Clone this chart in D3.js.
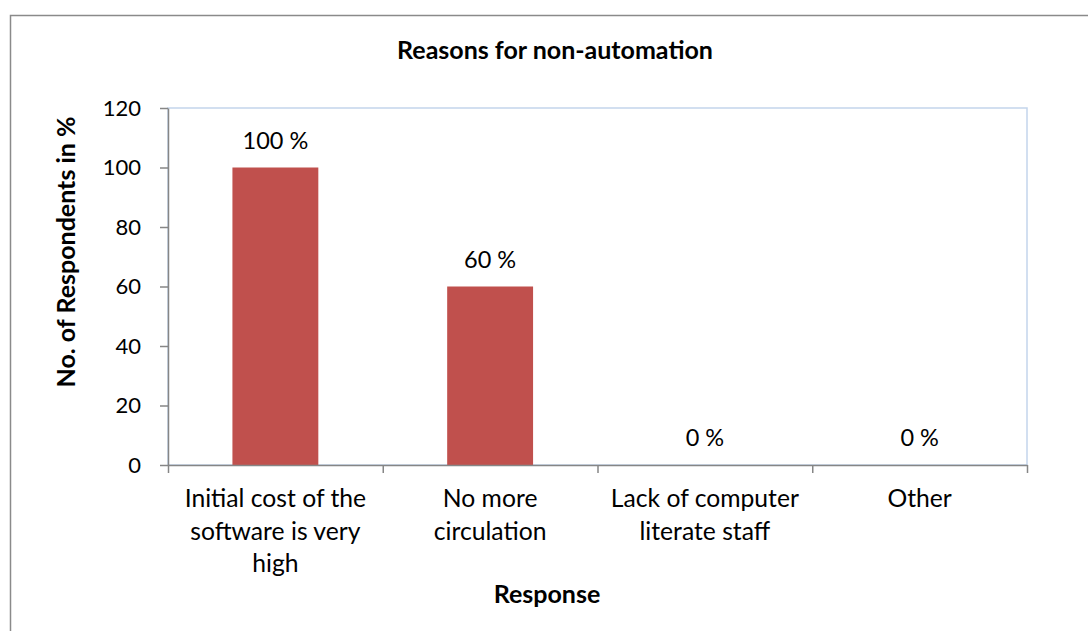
<!DOCTYPE html>
<html>
<head>
<meta charset="utf-8">
<script src="https://cdn.jsdelivr.net/npm/d3@7"></script>
<style>
  body { margin: 0; background: #fff; }
  svg { display: block; font-family: Lato, "Open Sans", sans-serif; }
</style>
</head>
<body>
<svg id="chart" width="1088" height="631"></svg>
<script>
// data
var categories = ["Initial cost of the software is very high", "No more circulation",
	"Lack of computer literate staff", "Other"];
var categoryLines = [
	["Initial cost of the", "software is very", "high"],
	["No more", "circulation"],
	["Lack of computer", "literate staff"],
	["Other"]
];
var percents = [100, 60, 0, 0];
var yTicks = [0, 20, 40, 60, 80, 100, 120];

var chartTitle = "Reasons for non-automation";
var yTitle = "No. of Respondents in %";
var xTitle = "Response";

// plot area, in page pixels
var plot = { left: 168, top: 108, right: 1027, bottom: 465 };

var svg = d3.select("#chart");

// outer chart frame (only top/left edges fall inside the picture)
svg.append("rect")
	.attr("x", 10.5)
	.attr("y", 15.5)
	.attr("width", 1100)
	.attr("height", 640)
	.attr("fill", "#fff")
	.attr("stroke", "#8a8a8a")
	.attr("stroke-width", 1.5);

var x = d3.scaleBand()
	.domain(categories)
	.range([plot.left, plot.right])
	.paddingInner(0.6)
	.paddingOuter(0.3);
// category boundaries for the tick marks
var xEdges = d3.scaleLinear()
	.domain([0, categories.length])
	.range([plot.left, plot.right]);
var y = d3.scaleLinear()
	.domain([0, 120])
	.range([plot.bottom, plot.top]);

// plot area border (light blue)
svg.append("rect")
	.attr("x", plot.left)
	.attr("y", plot.top)
	.attr("width", plot.right - plot.left)
	.attr("height", plot.bottom - plot.top)
	.attr("fill", "none")
	.attr("stroke", "#c3d5ec")
	.attr("stroke-width", 1.5);

// bars
svg.append("g")
	.selectAll("rect")
	.data(percents)
	.enter()
	.append("rect")
	.attr("x", function(d, i) { return x(categories[i]); })
	.attr("width", x.bandwidth())
	.attr("y", function(d) { return y(d); })
	.attr("height", function(d) { return y(0) - y(d); })
	.attr("fill", "#c0504d");

// value labels
svg.append("g")
	.selectAll("text")
	.data(percents)
	.enter()
	.append("text")
	.attr("x", function(d, i) { return x(categories[i]) + x.bandwidth() / 2; })
	.attr("y", function(d) { return y(d) - 19; })
	.attr("text-anchor", "middle")
	.attr("font-size", "23.5px")
	.attr("fill", "#000")
	.text(function(d) { return d + " %"; });

// y axis
var yAxis = d3.axisLeft(y)
	.tickValues(yTicks)
	.tickSizeInner(8)
	.tickSizeOuter(0)
	.tickPadding(19);
var gy = svg.append("g")
	.attr("transform", "translate(" + plot.left + ",0)")
	.call(yAxis);
gy.selectAll("text")
	.attr("font-size", "22px")
	.attr("font-family", "Lato, sans-serif")
	.attr("fill", "#000");

// x axis: ticks sit on the category boundaries
var xAxis = d3.axisBottom(xEdges)
	.tickValues(d3.range(categories.length + 1))
	.tickFormat("")
	.tickSizeInner(8)
	.tickSizeOuter(0);
svg.append("g")
	.attr("transform", "translate(0," + plot.bottom + ")")
	.call(xAxis);

svg.selectAll(".domain, .tick line")
	.attr("stroke", "#868686")
	.attr("stroke-width", 1.5);

// category labels, wrapped as in the original
var catLabels = svg.append("g")
	.selectAll("text")
	.data(categoryLines)
	.enter()
	.append("text")
	.attr("text-anchor", "middle")
	.attr("font-size", "24.7px")
	.attr("fill", "#000")
	.attr("transform", function(d, i) {
		return "translate(" + (x(categories[i]) + x.bandwidth() / 2) + "," + 507 + ")";
	});
catLabels.selectAll("tspan")
	.data(function(d) { return d; })
	.enter()
	.append("tspan")
	.attr("x", 0)
	.attr("y", function(d, i) { return i * 32.5; })
	.text(function(d) { return d; });

// titles
svg.append("text")
	.attr("x", 555)
	.attr("y", 59)
	.attr("text-anchor", "middle")
	.attr("font-size", "25px")
	.attr("font-weight", "bold")
	.text(chartTitle);

svg.append("text")
	.attr("transform", "translate(75,252) rotate(-90)")
	.attr("text-anchor", "middle")
	.attr("font-size", "25px")
	.attr("font-weight", "bold")
	.text(yTitle);

svg.append("text")
	.attr("x", 547)
	.attr("y", 603)
	.attr("text-anchor", "middle")
	.attr("font-size", "25px")
	.attr("font-weight", "bold")
	.text(xTitle);
</script>
</body>
</html>
